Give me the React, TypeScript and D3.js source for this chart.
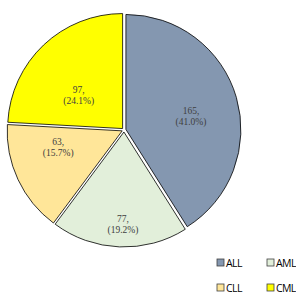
import React from 'react';
import * as d3 from 'd3';

const categories = ['ALL', 'AML', 'CLL', 'CML'];
const counts = [165, 77, 63, 97];
const colors = ['#8497B0', '#E2EFDA', '#FFE699', '#FFFF00'];

// label placement (Excel best fit): distance as fraction of radius, angle shift from slice middle in degrees
const labelFrac = [0.594, 0.817, 0.59, 0.5];
const labelShift = [4.7, -1.6, 11, -8.6];

export default function App() {
    const w = 296;
    const h = 293;
    const cx = 124;
    const cy = 130;
    const r = 115;
    const explode = 2;

    const total = d3.sum(counts);
    const pie = d3.pie<number>().sort(null).value(d => d);
    const arcs = pie(counts);
    const arc = d3.arc<d3.PieArcDatum<number>>().innerRadius(0).outerRadius(r);

    return (
        <svg width={w} height={h} style={{ position: 'absolute', left: 0, top: 0 }}>
            <rect width={w} height={h} fill="#fff" />
            {arcs.map((a, i) => {
                const mid = (a.startAngle + a.endAngle) / 2;
                const ox = Math.sin(mid) * explode;
                const oy = -Math.cos(mid) * explode;
                const la = mid + (labelShift[i] * Math.PI) / 180;
                const lr = r * labelFrac[i];
                const lx = cx + Math.sin(la) * lr;
                const ly = cy - Math.cos(la) * lr;
                const pct = ((counts[i] / total) * 100).toFixed(1);
                return (
                    <g key={categories[i]}>
                        <path
                            d={arc(a) || ''}
                            transform={`translate(${cx + ox},${cy + oy})`}
                            fill={colors[i]}
                            stroke="#000"
                            strokeWidth={0.8}
                            strokeLinejoin="round"
                        />
                        <text
                            x={lx}
                            y={ly}
                            textAnchor="middle"
                            fontFamily="'Liberation Serif', serif"
                            fontSize={9.5}
                            fill="#404040"
                        >
                            <tspan x={lx} dy={-2}>{counts[i]},</tspan>
                            <tspan x={lx} dy={11}>({pct}%)</tspan>
                        </text>
                    </g>
                );
            })}
            {categories.map((c, i) => {
                const col = i % 2;
                const row = Math.floor(i / 2);
                const x = 217 + col * 50;
                const y = 259 + row * 25;
                return (
                    <g key={c}>
                        <rect x={x} y={y} width={7} height={7} fill={colors[i]} stroke="#404040" strokeWidth={0.8} />
                        <text x={x + 9} y={y + 7.5} fontFamily="'Open Sans', sans-serif" fontSize={10.5} fill="#000" letterSpacing={-0.6}>
                            {c}
                        </text>
                    </g>
                );
            })}
        </svg>
    );
}
